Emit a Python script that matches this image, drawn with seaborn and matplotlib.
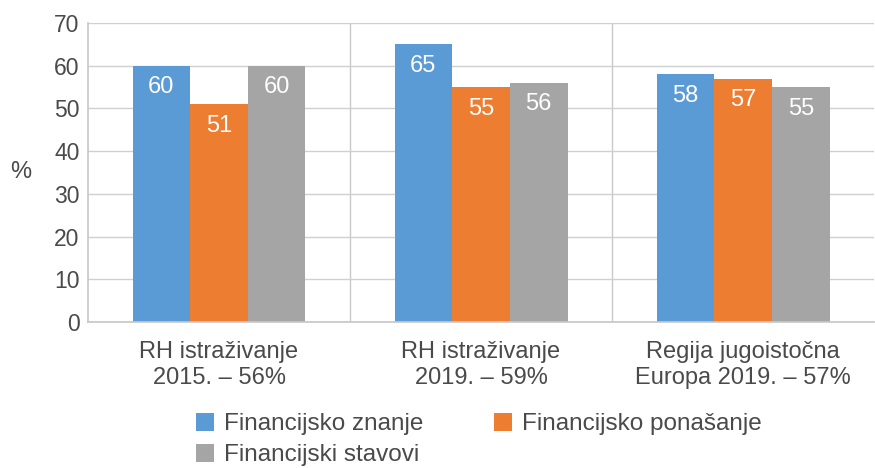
import matplotlib
matplotlib.use("Agg")
import matplotlib.pyplot as plt
import seaborn as sns
import pandas as pd
from matplotlib.patches import Patch

categories = ["RH istraživanje\n2015. – 56%", "RH istraživanje\n2019. – 59%", "Regija jugoistočna\nEuropa 2019. – 57%"]
series = ["Financijsko znanje", "Financijsko ponašanje", "Financijski stavovi"]
znanje = [60, 65, 58]
ponasanje = [51, 55, 57]
stavovi = [60, 56, 55]
colors = ["#5B9BD5", "#ED7D31", "#A5A5A5"]
yticks = [0, 10, 20, 30, 40, 50, 60, 70]

rows = []
for s, vals in zip(series, [znanje, ponasanje, stavovi]):
    for c, v in zip(categories, vals):
        rows.append({"cat": c, "series": s, "val": v})
df = pd.DataFrame(rows)

sns.set_theme(style="white")
plt.rcParams["font.family"] = ["Liberation Sans", "DejaVu Sans"]

fig = plt.figure(figsize=(8.75, 4.68), dpi=100)
ax = fig.add_axes([88/875, (468-322)/468, 1 - 88/875 - 0.001, (322-23)/468])

sns.barplot(data=df, x="cat", y="val", hue="series", palette=colors,
            width=0.66, saturation=1, ax=ax, legend=False, edgecolor="none")

for cont in ax.containers:
    for b in cont:
        h = b.get_height()
        ax.annotate(f"{int(h)}", xy=(b.get_x() + b.get_width() / 2, h),
                    xytext=(0, -15.5), textcoords="offset points",
                    ha="center", va="center", color="white", fontsize=17)

ax.set_ylim(0, 70)
ax.set_xlim(-0.5, 2.5)
ax.set_yticks(yticks)
ax.yaxis.grid(True, color="#d0d0d0", linewidth=1)
for xb in [0.5, 1.5]:
    ax.axvline(xb, color="#c8c8c8", linewidth=1, zorder=0)
ax.set_axisbelow(True)
for sp in ["top", "right"]:
    ax.spines[sp].set_visible(False)
ax.spines["left"].set_color("#c8c8c8")
ax.spines["bottom"].set_color("#c8c8c8")
ax.tick_params(axis="both", length=0, colors="#4a4a4a")
ax.tick_params(axis="y", labelsize=16.5, pad=6)
ax.tick_params(axis="x", labelsize=17, pad=14)
for t in ax.get_xticklabels():
    t.set_linespacing(1.2)
ax.set_xlabel("")
ax.set_ylabel("%", fontsize=17, color="#4a4a4a", rotation=0, labelpad=24, va="center")

h = [Patch(facecolor=c, edgecolor="none") for c in colors]
leg_kw = dict(frameon=False, fontsize=17.5, handlelength=0.75, handleheight=0.75,
              handletextpad=0.4, labelspacing=0.35, labelcolor="#4a4a4a",
              borderpad=0, borderaxespad=0, loc="upper left")
leg1 = fig.legend([h[0], h[2]], [series[0], series[2]],
                  bbox_to_anchor=(196/875, 1 - 413/468), **leg_kw)
leg2 = fig.legend([h[1]], [series[1]],
                  bbox_to_anchor=(494/875, 1 - 413/468), **leg_kw)

fig.savefig("out.png", dpi=100)
